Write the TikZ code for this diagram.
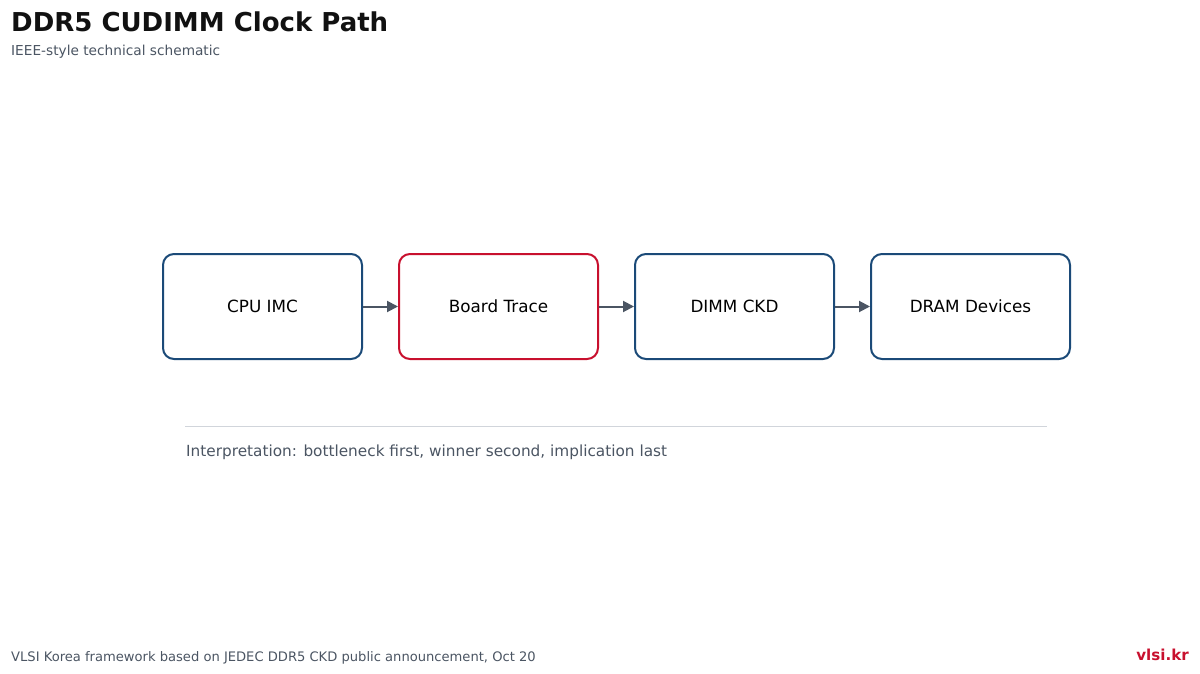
\documentclass[tikz,border=0pt]{standalone}
\usepackage{fontspec}
\setmainfont{DejaVu Sans}
\usetikzlibrary{arrows.meta}
\definecolor{boxblue}{HTML}{1B4A78}
\definecolor{boxred}{HTML}{C8102E}
\definecolor{greytxt}{HTML}{4B5563}
\definecolor{rulegrey}{HTML}{D1D5DB}
\definecolor{titleblack}{HTML}{111111}
\tikzset{
  stagebox/.style={draw=boxblue, line width=2pt, rounded corners=11pt, minimum width=199pt, minimum height=105pt, inner sep=0pt, font=\fontsize{16.8}{20}\selectfont, text=black},
  hotbox/.style={stagebox, draw=boxred},
  flowarrow/.style={draw=greytxt, line width=2pt, -{Triangle[length=11pt,width=11pt]}},
}
\begin{document}
\begin{tikzpicture}[x=1pt,y=-1pt]
\useasboundingbox[fill=white] (0,0) rectangle (1200,674);
\node[anchor=base west, inner sep=0pt, font=\bfseries\fontsize{26}{31}\selectfont, text=titleblack] (title) at (11,32) {DDR5 CUDIMM Clock Path};
\node[anchor=base west, inner sep=0pt, font=\fontsize{13.7}{17}\selectfont, text=greytxt] (subtitle) at (11,56) {IEEE-style technical schematic};
\node[stagebox] (cpu) at (262.5,306.5) {CPU IMC};
\node[hotbox] (board) at (498.5,306.5) {Board Trace};
\node[stagebox] (ckd) at (734.5,306.5) {DIMM CKD};
\node[stagebox] (dram) at (970.5,306.5) {DRAM Devices};
\draw[flowarrow] (cpu.east) -- (board.west);
\draw[flowarrow] (board.east) -- (ckd.west);
\draw[flowarrow] (ckd.east) -- (dram.west);
\coordinate (ruleL) at (185,426.5);
\coordinate (ruleR) at (1047,426.5);
\draw[rulegrey, line width=1.2pt] (ruleL) -- (ruleR);
\node[anchor=base west, inner sep=0pt, font=\fontsize{15.3}{18}\selectfont, text=greytxt] (interp) at (186,456) {Interpretation: bottleneck first, winner second, implication last};
\node[anchor=base west, inner sep=0pt, font=\fontsize{13.1}{16}\selectfont, text=greytxt] (footer) at (11,661) {VLSI Korea framework based on JEDEC DDR5 CKD public announcement, Oct 20};
\node[anchor=base east, inner sep=0pt, font=\bfseries\fontsize{15.1}{18}\selectfont, text=boxred] (brand) at (1189,660) {vlsi.kr};
\end{tikzpicture}
\end{document}
